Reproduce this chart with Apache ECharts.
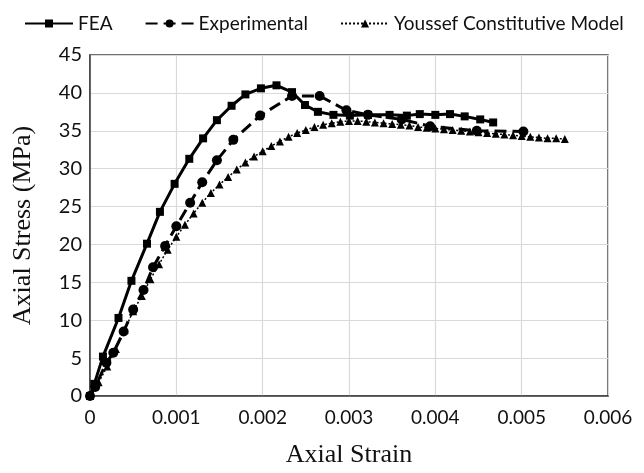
<!DOCTYPE html>
<html>
<head>
<meta charset="utf-8">
<script src="https://cdn.jsdelivr.net/npm/echarts@6/dist/echarts.min.js"></script>
<style>html,body{margin:0;padding:0;background:#fff}#c{width:644px;height:473px}</style>
</head>
<body>
<div id="c"></div>
<script>
var xTicks = [0, 0.001, 0.002, 0.003, 0.004, 0.005, 0.006];
var yTicks = [0, 5, 10, 15, 20, 25, 30, 35, 40, 45];

var feaStrain = [0, 0.00005, 0.00015, 0.00033, 0.00048, 0.00066, 0.00081, 0.00098, 0.00115, 0.00131, 0.00147, 0.00164, 0.0018, 0.00198, 0.00216, 0.00234, 0.00249, 0.00264, 0.00282, 0.00301, 0.00322, 0.00347, 0.00367, 0.00382, 0.004, 0.00417, 0.00434, 0.00452, 0.00467];
var feaStress = [0, 1.6, 5.2, 10.3, 15.2, 20.1, 24.3, 28.0, 31.3, 34.0, 36.4, 38.3, 39.8, 40.6, 41.0, 40.1, 38.4, 37.5, 37.1, 37.0, 37.1, 37.1, 37.0, 37.2, 37.1, 37.2, 36.9, 36.5, 36.1];

var expStrain = [0, 0.00006, 0.00019, 0.00027, 0.00039, 0.0005, 0.00062, 0.00073, 0.00087, 0.001, 0.00116, 0.0013, 0.00147, 0.00166, 0.00197, 0.00234, 0.00266, 0.00297, 0.00322, 0.00361, 0.00394, 0.00448, 0.00502];
var expStress = [0, 1.2, 4.4, 5.7, 8.5, 11.4, 14.0, 17.0, 19.8, 22.4, 25.5, 28.2, 31.1, 33.8, 37.0, 39.6, 39.6, 37.7, 37.1, 36.5, 35.6, 35.0, 34.9];

var ysfStrain = [0, 0.0001, 0.0002, 0.0003, 0.0004, 0.0005, 0.0006, 0.0007, 0.0008, 0.0009, 0.001, 0.0011, 0.0012, 0.0013, 0.0014, 0.0015, 0.0016, 0.0017, 0.0018, 0.0019, 0.002, 0.0021, 0.0022, 0.0023, 0.0024, 0.0025, 0.0026, 0.0027, 0.0028, 0.0029, 0.003, 0.0031, 0.0032, 0.0033, 0.0034, 0.0035, 0.0036, 0.0037, 0.0038, 0.0039, 0.004, 0.0041, 0.0042, 0.0043, 0.0044, 0.0045, 0.0046, 0.0047, 0.0048, 0.0049, 0.005, 0.0051, 0.0052, 0.0053, 0.0054, 0.0055];
var ysfStress = [0, 1.8, 3.9, 6.2, 8.7, 11.2, 13.2, 15.4, 17.4, 19.3, 21.0, 22.6, 24.1, 25.5, 26.8, 27.9, 28.9, 29.9, 30.8, 31.6, 32.3, 33.0, 33.6, 34.2, 34.7, 35.1, 35.5, 35.8, 36.0, 36.2, 36.3, 36.3, 36.2, 36.1, 36.0, 35.9, 35.8, 35.7, 35.5, 35.4, 35.3, 35.2, 35.1, 35.0, 34.9, 34.8, 34.7, 34.6, 34.5, 34.4, 34.3, 34.2, 34.1, 34.0, 34.0, 33.9];

function pairs(a, b) { return a.map(function (v, i) { return [v, b[i]]; }); }

var chart = echarts.init(document.getElementById('c'), null, {renderer: 'canvas'});
var sans = 'Lato, "Open Sans", sans-serif';
var serif = '"Liberation Serif", "DejaVu Serif", serif';
chart.setOption({
  animation: false,
  backgroundColor: '#fff',
  legend: {
    top: 9,
    left: 19,
    itemWidth: 48,
    itemHeight: 10,
    itemGap: 32,
    textStyle: {fontFamily: sans, fontSize: 19, color: '#111'},
    data: ['FEA', 'Experimental', 'Youssef Constitutive Model']
  },
  grid: {left: 90, right: 36, top: 55, bottom: 67, show: true, borderColor: '#404040', borderWidth: 1.5, containLabel: false},
  xAxis: {
    type: 'value', min: xTicks[0], max: xTicks[xTicks.length - 1], interval: 0.001,
    name: 'Axial Strain', nameLocation: 'middle', nameGap: 46,
    nameTextStyle: {fontFamily: serif, fontSize: 26, color: '#111'},
    axisLine: {show: true, lineStyle: {color: '#404040', width: 1.5}},
    axisTick: {show: false},
    axisLabel: {fontFamily: sans, fontSize: 19, color: '#111', margin: 12,
      formatter: function (v) { return v === 0 ? '0' : v.toFixed(3); }},
    splitLine: {show: true, lineStyle: {color: '#d9d9d9', width: 1.2}}
  },
  yAxis: {
    type: 'value', min: yTicks[0], max: yTicks[yTicks.length - 1], interval: 5,
    name: 'Axial Stress (MPa)', nameLocation: 'middle', nameGap: 54, nameRotate: 90,
    nameTextStyle: {fontFamily: serif, fontSize: 26, color: '#111'},
    axisLine: {show: true, lineStyle: {color: '#404040', width: 1.5}},
    axisTick: {show: false},
    axisLabel: {fontFamily: sans, fontSize: 20, color: '#111', margin: 8},
    splitLine: {show: true, lineStyle: {color: '#d9d9d9', width: 1.2}}
  },
  series: [
    {
      name: 'FEA', type: 'line', data: pairs(feaStrain, feaStress),
      symbol: 'rect', symbolSize: 8,
      lineStyle: {color: '#000', width: 3, type: 'solid'},
      itemStyle: {color: '#000'}
    },
    {
      name: 'Experimental', type: 'line', data: pairs(expStrain, expStress),
      symbol: 'circle', symbolSize: 10,
      lineStyle: {color: '#000', width: 3, type: [12, 6]},
      itemStyle: {color: '#000'}
    },
    {
      name: 'Youssef Constitutive Model', type: 'line', data: pairs(ysfStrain, ysfStress),
      symbol: 'triangle', symbolSize: 8,
      lineStyle: {color: '#000', width: 1.5, type: [2, 2]},
      itemStyle: {color: '#000'}
    }
  ]
});
</script>
</body>
</html>
